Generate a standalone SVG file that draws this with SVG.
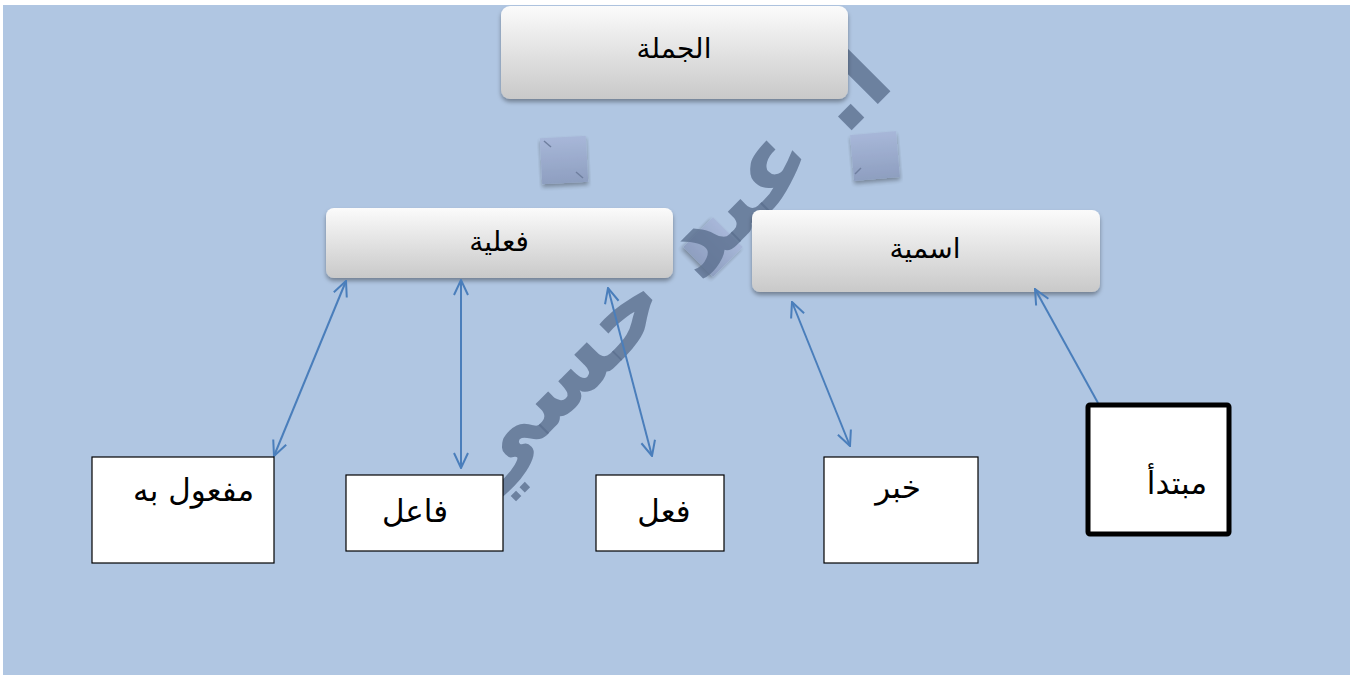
<svg xmlns="http://www.w3.org/2000/svg" width="1354" height="675" viewBox="0 0 1354 675">
<style>
.lbl{font-family:"DejaVu Sans",sans-serif;fill:#000;direction:rtl}
.top{font-size:28px;text-anchor:middle}
.box{fill:#fff;stroke:#000;stroke-width:1.2}
.big{font-size:31px}
.conn{stroke:#4a7ebb;stroke-width:2;fill:none}
.sq{fill:url(#sqg);opacity:0.9}
.mk{stroke:#6f7f9f;stroke-width:1.5}
</style>
<defs>
<linearGradient id="ng" x1="0" y1="0" x2="0" y2="1">
<stop offset="0" stop-color="#fbfbfb"/>
<stop offset="1" stop-color="#c9c9c9"/>
</linearGradient>
<linearGradient id="sqg" x1="0" y1="0" x2="0" y2="1">
<stop offset="0" stop-color="#a7b6d8"/>
<stop offset="1" stop-color="#8b9bbd"/>
</linearGradient>
<filter id="sh" x="-5%" y="-10%" width="110%" height="130%">
<feDropShadow dx="0" dy="3" stdDeviation="2" flood-color="#000" flood-opacity="0.35"/>
</filter>
<marker id="ah" viewBox="0 0 18 18" refX="17" refY="9" markerWidth="18" markerHeight="18" markerUnits="userSpaceOnUse" orient="auto-start-reverse">
<path d="M2,2 L17,9 L2,16" fill="none" stroke="#4a7ebb" stroke-width="2"/>
</marker>
</defs>
<rect x="3" y="5" width="1347" height="670" fill="#b0c6e2"/>

<g id="decor">
<rect class="sq" x="541" y="137" width="46" height="46" transform="rotate(-3 564 160)" filter="url(#sh)"/>
<line class="mk" x1="544" y1="141" x2="551" y2="147"/>
<line class="mk" x1="576" y1="172" x2="583" y2="178"/>
<rect class="sq" x="852" y="133" width="46" height="46" transform="rotate(-5 875 156)" filter="url(#sh)"/>
<line class="mk" x1="855" y1="174" x2="861" y2="168"/>
<rect class="sq" x="692" y="226" width="42" height="42" transform="rotate(45 713 247)" filter="url(#sh)"/>
</g>

<g id="watermark">
<text x="664" y="305" transform="rotate(-45 664 274)" font-family="DejaVu Sans,sans-serif" font-weight="bold" font-size="102" fill="#5b6f8f" fill-opacity="0.8" text-anchor="middle" direction="rtl">أ. عبد حسي</text>
</g>

<g id="n-jumla">
<rect x="501" y="6" width="347" height="93" rx="9" fill="url(#ng)" filter="url(#sh)"/>
<text class="lbl top" x="674" y="58">الجملة</text>
</g>
<g id="n-fiiliya">
<rect x="326" y="208" width="347" height="70" rx="8" fill="url(#ng)" filter="url(#sh)"/>
<text class="lbl top" x="499" y="251">فعلية</text>
</g>
<g id="n-ismiya">
<rect x="752" y="210" width="348" height="82" rx="8" fill="url(#ng)" filter="url(#sh)"/>
<text class="lbl top" x="925" y="258">اسمية</text>
</g>

<g id="connectors">
<line class="conn" x1="274" y1="456" x2="346" y2="281" marker-start="url(#ah)" marker-end="url(#ah)"/>
<line class="conn" x1="461" y1="468" x2="461" y2="280" marker-start="url(#ah)" marker-end="url(#ah)"/>
<line class="conn" x1="652" y1="456" x2="608" y2="288" marker-start="url(#ah)" marker-end="url(#ah)"/>
<line class="conn" x1="850" y1="446" x2="792" y2="302" marker-start="url(#ah)" marker-end="url(#ah)"/>
<line class="conn" x1="1098" y1="403" x2="1035" y2="289" marker-end="url(#ah)"/>
</g>

<g id="n-mafool">
<rect class="box" x="92" y="457" width="182" height="106"/>
<text class="lbl big" x="254" y="501" text-anchor="start">مفعول به</text>
</g>
<g id="n-faail">
<rect class="box" x="346" y="475" width="157" height="76"/>
<text class="lbl big" x="415" y="522" text-anchor="middle">فاعل</text>
</g>
<g id="n-fiil">
<rect class="box" x="596" y="475" width="128" height="76"/>
<text class="lbl big" x="664" y="522" text-anchor="middle">فعل</text>
</g>
<g id="n-khabar">
<rect class="box" x="824" y="457" width="154" height="106"/>
<text class="lbl big" x="898" y="498" text-anchor="middle">خبر</text>
</g>
<g id="n-mubtada">
<rect x="1088" y="405" width="141" height="129" fill="#fff" stroke="#000" stroke-width="5" rx="2"/>
<text class="lbl big" x="1207" y="494" text-anchor="start">مبتدأ</text>
</g>
</svg>
